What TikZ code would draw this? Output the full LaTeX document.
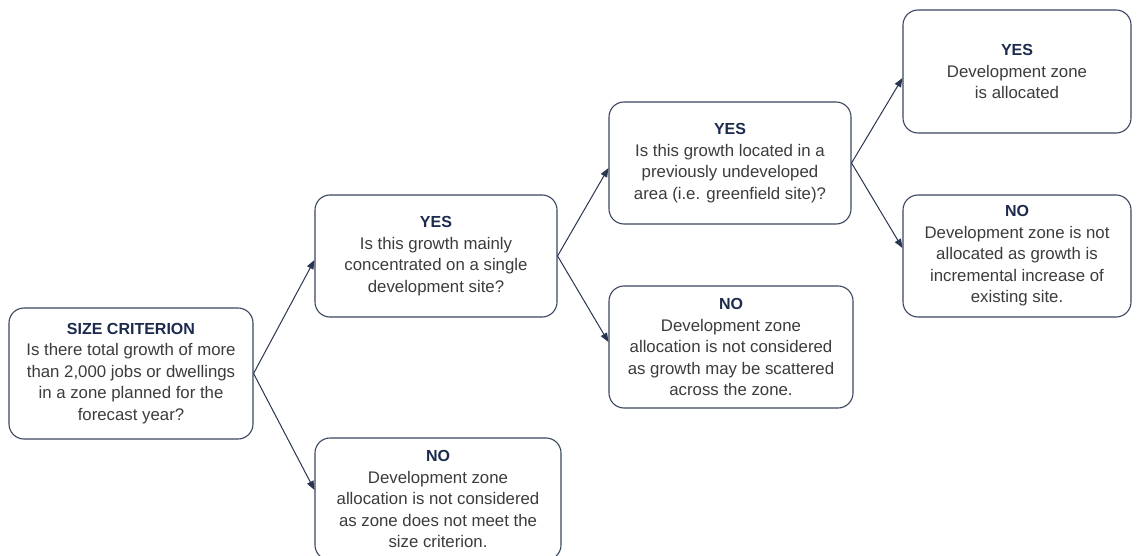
\documentclass[tikz,border=0pt]{standalone}
\usepackage{fontspec}
\setmainfont{Liberation Sans}
\usetikzlibrary{arrows.meta,calc}
\definecolor{boxline}{HTML}{3B4660}
\definecolor{titlec}{HTML}{1C2A4E}
\definecolor{bodyc}{HTML}{3C3C3C}
\definecolor{arrowc}{HTML}{2A3552}
\begin{document}
\begin{tikzpicture}[x=1pt,y=-1pt,
  box/.style={draw=boxline,line width=1.1pt,rounded corners=15pt,align=center,
    font=\fontsize{16.8}{21.5}\selectfont,text=bodyc,inner sep=0pt},
  conn/.style={draw=arrowc,line width=1pt,-{Triangle[length=9pt,width=7pt]}}]
\useasboundingbox[fill=white] (0,0) rectangle (1140,556);
\newcommand{\ttl}[1]{{\fontsize{16}{21.5}\selectfont\bfseries\color{titlec}#1}}
\node[box,minimum width=244pt,minimum height=131pt] (A) at (131,373.5)
  {\ttl{SIZE CRITERION}\\Is there total growth of more\\than 2,000 jobs or dwellings\\in a zone planned for the\\forecast year?};
\node[box,minimum width=242pt,minimum height=122pt] (B) at (436,256)
  {\ttl{YES}\\Is this growth mainly\\concentrated on a single\\development site?};
\node[box,minimum width=246pt,minimum height=122pt] (C) at (438,499)
  {\ttl{NO}\\Development zone\\allocation is not considered\\as zone does not meet the\\size criterion.};
\node[box,minimum width=242pt,minimum height=122pt] (D) at (730,163)
  {\ttl{YES}\\Is this growth located in a\\previously undeveloped\\area (i.e. greenfield site)?};
\node[box,minimum width=244pt,minimum height=122pt] (E) at (731,347)
  {\ttl{NO}\\Development zone\\allocation is not considered\\as growth may be scattered\\across the zone.};
\node[box,minimum width=228pt,minimum height=123pt] (F) at (1017,71.5)
  {\ttl{YES}\\Development zone\\is allocated};
\node[box,minimum width=228pt,minimum height=122pt] (G) at (1017,256)
  {\ttl{NO}\\Development zone is not\\allocated as growth is\\incremental increase of\\existing site.};
\draw[conn] (A.east) -- ($(B.west)+(0,4)$);
\draw[conn] (A.east) -- ($(C.west)+(0,-9)$);
\draw[conn] (B.east) -- ($(D.west)+(0,5)$);
\draw[conn] (B.east) -- ($(E.west)+(0,-5)$);
\draw[conn] (D.east) -- ($(F.west)+(0,6.5)$);
\draw[conn] (D.east) -- ($(G.west)+(0,-8)$);
\end{tikzpicture}
\end{document}
